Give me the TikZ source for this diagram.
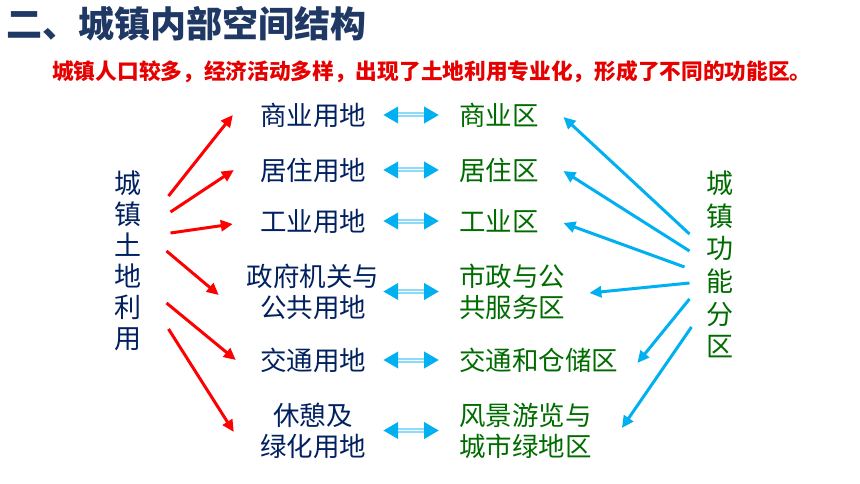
\documentclass[tikz,border=0pt]{standalone}
\usepackage{fontspec}
\usepackage{xcolor}
\usepackage{tikz}
\usetikzlibrary{arrows.meta}
\newfontfamily\cjk{Noto Sans CJK SC}
\definecolor{titlenavy}{HTML}{1F3864}
\definecolor{landnavy}{HTML}{002060}
\definecolor{zonegreen}{HTML}{006C00}
\definecolor{leadred}{HTML}{E60000}
\definecolor{zoneblue}{HTML}{00B0F0}

\begin{document}
\begin{tikzpicture}[x=1pt,y=-1pt,
    every node/.style={inner sep=0pt,font=\cjk},
    land/.style={text=landnavy,font=\cjk\fontsize{26.5}{31}\selectfont,text width=136pt,align=center},
    zone/.style={text=zonegreen,font=\cjk\fontsize{26.5}{31}\selectfont,anchor=west,align=left},
    redarrow/.style={-{Triangle[length=12pt,width=11pt]},draw=red,line width=3pt},
    bluearrow/.style={-{Triangle[length=12pt,width=11pt]},draw=zoneblue,line width=3pt},
    dblarrow/.style={{Triangle[length=15pt,width=16pt,color=zoneblue]}-{Triangle[length=15pt,width=16pt,color=zoneblue]},
        draw=zoneblue!45,line width=5pt,shorten <=2pt,shorten >=20pt,
        postaction={draw=white,line width=1pt,-,shorten <=17pt,shorten >=35pt}}]
                \useasboundingbox (0,0) rectangle (860,484);
                \node[anchor=west,text=titlenavy,font=\cjk\bfseries\fontsize{36}{40}\selectfont] (title) at (6,24) {二、城镇内部空间结构};
                \node[anchor=west,text=leadred,font=\cjk\bfseries\fontsize{21.7}{26}\selectfont] (lead) at (52,72) {城镇人口较多，经济活动多样，出现了土地利用专业化，形成了不同的功能区。};
                % the two vertical labels
                \node[text=landnavy,font=\cjk\fontsize{27}{30.9}\selectfont,align=center,outer xsep=27pt] (landuse) at (128,261) {城\\镇\\土\\地\\利\\用};
                \node[text=zonegreen,font=\cjk\fontsize{27}{32.6}\selectfont,align=center,outer xsep=17pt] (funczone) at (720,264.5) {城\\镇\\功\\能\\分\\区};
                % land use column
                \node[land] (l1) at (313,115) {商业用地};
                \node[land] (l2) at (313,170) {居住用地};
                \node[land] (l3) at (313,221) {工业用地};
                \node[land] (l4) at (313,291.5) {政府机关与\\公共用地};
                \node[land] (l5) at (313,360) {交通用地};
                \node[land] (l6) at (313,430.5) {休憩及\\绿化用地};
                % zone column
                \node[zone] (z1) at (459,115) {商业区};
                \node[zone] (z2) at (459,170) {居住区};
                \node[zone] (z3) at (459,221) {工业区};
                \node[zone] (z4) at (459,291.5) {市政与公\\共服务区};
                \node[zone] (z5) at (459,360) {交通和仓储区};
                \node[zone] (z6) at (459,430.5) {风景游览与\\城市绿地区};
                % red arrows
                \draw[redarrow] ([yshift=65pt]landuse.east) -- ([xshift=-12pt]l1.west);
                \draw[redarrow] ([yshift=49pt,xshift=2pt]landuse.east) -- ([xshift=-11pt]l2.west);
                \draw[redarrow] ([yshift=28pt,xshift=2pt]landuse.east) -- ([xshift=-12pt,yshift=-3pt]l3.west);
                \draw[redarrow] ([yshift=10pt,xshift=-2pt]landuse.east) -- ([xshift=-26pt,yshift=-3.5pt]l4.west);
                \draw[redarrow] ([yshift=-42pt,xshift=-2pt]landuse.east) -- ([xshift=-9pt]l5.west);
                \draw[redarrow] ([yshift=-68pt]landuse.east) -- ([xshift=-11pt,yshift=-1.5pt]l6.west);
                % blue arrows
                \draw[bluearrow] ([yshift=30.5pt]funczone.west) -- ([xshift=24.5pt,yshift=-2pt]z1.east);
                \draw[bluearrow] ([yshift=13.5pt]funczone.west) -- ([xshift=24.5pt,yshift=-1pt]z2.east);
                \draw[bluearrow] ([yshift=-2.5pt,xshift=-5pt]funczone.west) -- ([xshift=24.5pt,yshift=-2pt]z3.east);
                \draw[bluearrow] ([yshift=-18.5pt]funczone.west) -- ([xshift=24pt,yshift=-1.5pt]z4.east);
                \draw[bluearrow] ([yshift=-34.5pt]funczone.west) -- ([xshift=19pt,yshift=-3pt]z5.east);
                \draw[bluearrow] ([yshift=-62.5pt,xshift=2pt]funczone.west) -- ([xshift=30pt,yshift=2.5pt]z6.east);
                % double arrows
                \draw[dblarrow] (l1.east) -- (z1.west);
                \draw[dblarrow] (l2.east) -- (z2.west);
                \draw[dblarrow] (l3.east) -- (z3.west);
                \draw[dblarrow] (l4.east) -- (z4.west);
                \draw[dblarrow] (l5.east) -- (z5.west);
                \draw[dblarrow] (l6.east) -- (z6.west);
            \end{tikzpicture}
\end{document}
